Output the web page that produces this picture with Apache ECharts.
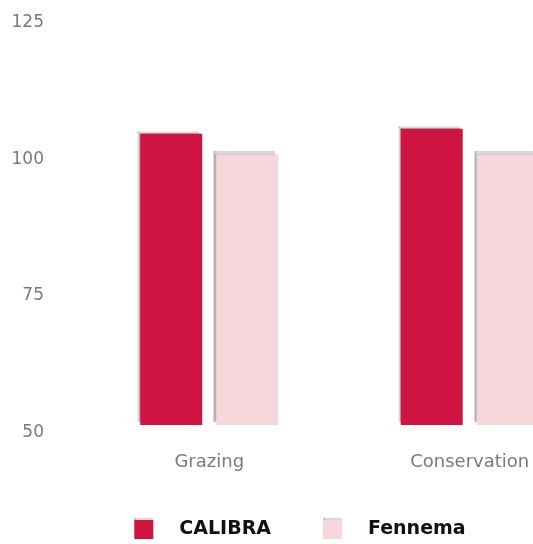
<!DOCTYPE html>
<html><head><meta charset="utf-8">
<script src="https://cdn.jsdelivr.net/npm/echarts@6/dist/echarts.min.js"></script>
<style>html,body{margin:0;padding:0;overflow:hidden;background:#fff}#c{width:600px;height:544px}</style>
</head><body><div id="c"></div>
<script>
const categories = ['Grazing', 'Conservation'];
const seriesNames = ['CALIBRA', 'Fennema'];
const calibra = [103.3, 104.2];
const fennema = [99.5, 99.5];
const yTicks = [50, 75, 100, 125];

const chart = echarts.init(document.getElementById('c'), null, {renderer: 'canvas'});
const shadow = {shadowColor: 'rgba(0,0,0,0.3)', shadowBlur: 1, shadowOffsetX: -3, shadowOffsetY: -3};
chart.setOption({
  animation: false,
  textStyle: {fontFamily: 'DejaVu Sans'},
  grid: {left: 79, right: 0, top: 15, bottom: 119},
  legend: {
    bottom: 0, left: 'center', icon: 'rect', itemWidth: 19, itemHeight: 19, itemGap: 52,
    itemStyle: {shadowColor: 'rgba(0,0,0,0.3)', shadowBlur: 1, shadowOffsetX: 0, shadowOffsetY: -2},
    textStyle: {fontFamily: 'DejaVu Sans', fontSize: 19, fontWeight: 'bold', color: '#111', padding: [0, 0, 0, 21]},
    data: seriesNames
  },
  xAxis: {
    type: 'category', data: categories,
    axisLine: {show: false}, axisTick: {show: false},
    axisLabel: {color: '#7a7a7a', fontSize: 18, margin: 28}
  },
  yAxis: {
    type: 'value', min: yTicks[0], max: yTicks[yTicks.length - 1], interval: 25,
    axisLine: {show: false}, axisTick: {show: false}, splitLine: {show: false},
    axisLabel: {color: '#7a7a7a', fontSize: 17, margin: 35, verticalAlign: 'top', lineHeight: 15}
  },
  series: [
    {name: seriesNames[0], type: 'bar', data: calibra, barWidth: 62, barGap: '22.6%',
     itemStyle: Object.assign({color: '#D01442'}, shadow)},
    {name: seriesNames[1], type: 'bar', data: fennema, barWidth: 62,
     itemStyle: Object.assign({color: '#F5D7DC'}, shadow)}
  ]
});
</script></body></html>
